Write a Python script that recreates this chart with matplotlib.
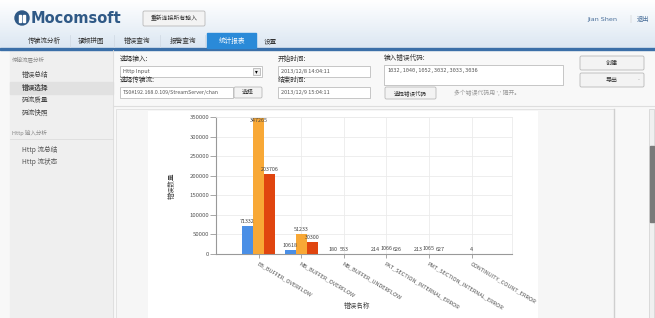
import matplotlib
matplotlib.use("Agg")
import matplotlib.pyplot as plt
from matplotlib.patches import Rectangle, FancyBboxPatch, Circle
import numpy as np

plt.rcParams['font.family'] = ['Noto Sans CJK SC', 'DejaVu Sans']

# chart data
categories = ["EB_BUFFER_OVERFLOW", "MB_BUFFER_OVERFLOW", "MB_BUFFER_UNDERFLOW",
              "PAT_SECTION_INTERNAL_ERROR", "PMT_SECTION_INTERNAL_ERROR",
              "CONTINUITY_COUNT_ERROR"]
series_blue = [71332, 10618, 180, 214, 213, 0]
series_orange = [347265, 51233, 553, 1066, 1065, 4]
series_red = [203706, 30300, 0, 626, 627, 0]
y_ticks = [0, 50000, 100000, 150000, 200000, 250000, 300000, 350000]

# page texts
tabs = ["传输流分析", "视频拼图", "错误查询", "报警查询", "统计报表", "设置"]
tab_centers = [44, 91, 137, 183, 232, 270]
side_items = ["错误总结", "错误选择", "码流质量", "码流快照"]
http_items = ["Http 流总结", "Http 流状态"]

fig = plt.figure(figsize=(6.55, 3.18), dpi=100)

# page background drawn in pixel coordinates
bg = fig.add_axes([0, 0, 1, 1], zorder=0)
bg.set_xlim(0, 655)
bg.set_ylim(318, 0)
bg.axis("off")

grad = np.linspace(0, 1, 64).reshape(-1, 1)
top = np.array([1.0, 1.0, 1.0])
bot = np.array([0.86, 0.905, 0.95])
img = top + grad[..., None] * (bot - top)
bg.imshow(img, extent=[0, 655, 48, 0], aspect="auto", zorder=0)
bg.add_patch(Rectangle((0, 48), 655, 270, color="#f8f8f8", zorder=0))
bg.add_patch(Rectangle((0, 47.5), 655, 2, color="#3b6fa8", zorder=2))

# logo
bg.add_patch(Circle((22, 18), 7, color="#2f5986", zorder=2))
bg.add_patch(Rectangle((19.2, 14.5), 1.7, 7, color="white", zorder=3))
bg.add_patch(Rectangle((23.1, 14.5), 1.7, 7, color="white", zorder=3))
bg.text(31, 18.5, "Mocomsoft", fontsize=10.5, fontweight="bold", color="#2f5986",
        va="center", ha="left", family="DejaVu Sans")


def button(x0, y0, x1, y1, label, fs=4.3, color="#333"):
    bg.add_patch(FancyBboxPatch((x0, y0), x1 - x0, y1 - y0,
                                boxstyle="round,pad=0,rounding_size=1.5",
                                fc="#f3f3f3", ec="#b9b9b9", lw=0.6, zorder=2))
    bg.text((x0 + x1) / 2, (y0 + y1) / 2, label, fontsize=fs, color=color,
            ha="center", va="center", zorder=3)


def field(x0, y0, x1, y1, label="", fs=4.0, mono=False):
    bg.add_patch(Rectangle((x0, y0), x1 - x0, y1 - y0, fc="white",
                           ec="#bdbdbd", lw=0.6, zorder=2))
    if label:
        kw = {"family": "DejaVu Sans Mono"} if mono else {}
        bg.text(x0 + 3, y0 + 5.5, label, fontsize=fs, color="#555",
                ha="left", va="center", zorder=3, **kw)


button(143, 11, 205, 26, "重新连接所有输入", fs=4.2)
bg.text(587, 19, "Jian Shen", fontsize=4.6, color="#4a6f9a", va="center",
        family="DejaVu Sans")
bg.text(629, 19, "|", fontsize=5, color="#c8c8c8", va="center")
bg.text(637, 19, "退出", fontsize=4.6, color="#4a6f9a", va="center")

# tabs
for name, cx in zip(tabs, tab_centers):
    if name == "统计报表":
        bg.add_patch(Rectangle((207, 33), 49, 15, color="#2a8ad8", zorder=2))
        bg.text(cx, 41, name, fontsize=4.8, color="white", ha="center",
                va="center", zorder=3)
    else:
        bg.text(cx, 41, name, fontsize=4.8, color="#333", ha="center",
                va="center", zorder=3)
for sx in [70, 114, 160, 205]:
    bg.plot([sx, sx], [35, 47], color="#d2dbe5", lw=0.6, zorder=2)

# sidebar
bg.add_patch(Rectangle((10, 50), 103, 268, color="#efefef", zorder=1))
bg.plot([113, 113], [50, 318], color="#dcdcdc", lw=0.6, zorder=2)
bg.text(12, 60, "传输流层分析", fontsize=4.0, color="#888", va="center")
bg.add_patch(Rectangle((10, 82), 103, 12, color="#e1e1e1", zorder=1))
for i, name in enumerate(side_items):
    bg.text(22, 75 + i * 12.7, name, fontsize=4.8, color="#444", va="center",
            fontweight="bold" if name == "错误选择" else "normal", zorder=3)
bg.text(12, 133, "Http 输入分析", fontsize=4.0, color="#888", va="center")
bg.plot([10, 113], [139, 139], color="#dcdcdc", lw=0.6)
for i, name in enumerate(http_items):
    bg.text(22, 150 + i * 12, name, fontsize=4.8, color="#555", va="center")

# form
bg.text(120, 59, "选择输入:", fontsize=4.8, color="#333", va="center")
field(120, 66, 262, 77, "Http Input")
bg.add_patch(Rectangle((253, 68), 7, 7, fc="#eeeeee", ec="#aaa", lw=0.5, zorder=3))
bg.text(256.5, 71.5, "▾", fontsize=4, ha="center", va="center", zorder=4,
        family="DejaVu Sans")
bg.text(120, 80, "选择传输流:", fontsize=4.8, color="#333", va="center")
field(120, 87, 233, 98, "TS0#192.168.0.109/StreamServer/chan", fs=3.8)
button(234, 87, 262, 98, "选择")

bg.text(278, 59, "开始时间:", fontsize=4.8, color="#333", va="center")
field(278, 66, 370, 77, "2013/12/8 14:04:11")
bg.text(278, 80, "结束时间:", fontsize=4.8, color="#333", va="center")
field(278, 87, 370, 98, "2013/12/9 15:04:11")

bg.text(384, 58, "输入错误代码:", fontsize=4.8, color="#333", va="center")
field(384, 65, 563, 85, "1032,1040,1052,3032,3033,3036", fs=3.8, mono=True)
button(385, 87, 436, 99, "选择错误代码", fs=4.0)
bg.text(454, 93, "多个错误代码用 ',' 隔开。", fontsize=4.2, color="#999",
        va="center")
button(580, 56, 644, 70, "创建")
button(580, 73, 644, 87, "导出")
bg.text(638, 80, "-", fontsize=4, color="#999", va="center")
bg.plot([113, 655], [106, 106], color="#dedede", lw=0.8)

# chart panel
bg.add_patch(Rectangle((116, 109), 498, 209, fc="#f6f6f6", ec="#e0e0e0",
                       lw=0.6, zorder=1))
bg.add_patch(Rectangle((148, 111), 390, 207, fc="white", zorder=1))
bg.plot([614, 614], [109, 318], color="#cfcfcf", lw=1.0)
bg.add_patch(Rectangle((649, 109), 5, 209, fc="#f0f0f0", ec="#d0d0d0", lw=0.5))
bg.add_patch(Rectangle((649.5, 146), 4, 76, color="#7a7a7a", zorder=3))
bg.text(357, 306, "错误名称", fontsize=4.8, color="#444", ha="center",
        va="center", zorder=3)

# chart
ax = fig.add_axes([216 / 655, 64 / 318, 296 / 655, 137 / 318], zorder=2)
ax.patch.set_alpha(0)
x = np.arange(len(categories))
w = 0.26
colors = ["#4a8fe6", "#f8a836", "#e0450f"]
for k, (vals, c) in enumerate(zip([series_blue, series_orange, series_red], colors)):
    xs = x + (k - 1) * w
    ax.bar(xs, vals, width=w, color=c, zorder=3)
    for xi, v in zip(xs, vals):
        if v:
            ax.annotate(str(v), (xi, min(v, 330000)), xytext=(0, 1.5),
                        textcoords="offset points", ha="center", va="bottom",
                        fontsize=3.9, color="#444", zorder=4)

ax.set_xlim(-1, 5.95)
ax.set_ylim(0, 350000)
ax.set_yticks(y_ticks)
ax.set_yticklabels([str(t) for t in y_ticks])
ax.set_xticks(x)
ax.set_xticklabels(categories, rotation=-31, ha="left", va="top",
                   rotation_mode="anchor", fontsize=4.0, color="#555")
ax.tick_params(axis="y", labelsize=4.3, labelcolor="#555", length=4,
               color="#999", width=0.6, pad=1)
ax.tick_params(axis="x", length=3, color="#999", width=0.6, pad=2)
ax.grid(True, color="#ebebeb", lw=0.6, zorder=0)
for s in ["top", "right"]:
    ax.spines[s].set_color("#ebebeb")
    ax.spines[s].set_linewidth(0.6)
for s in ["left", "bottom"]:
    ax.spines[s].set_color("#999")
    ax.spines[s].set_linewidth(0.8)
ax.set_ylabel("错误数量", fontsize=4.8, color="#444")
ax.yaxis.set_label_coords(-0.135, 0.5)

fig.savefig("out.png", dpi=100)
